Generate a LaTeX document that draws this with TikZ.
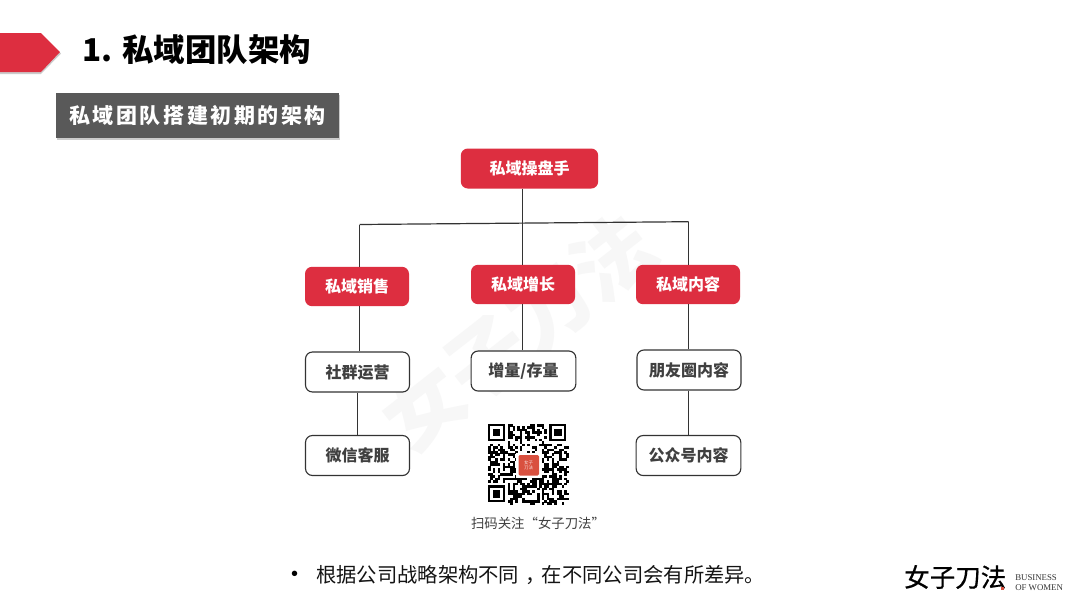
\documentclass[tikz,border=0pt]{standalone}
\usepackage{fontspec}
\setmainfont{Noto Sans CJK SC}
\newfontfamily\serifen{Liberation Serif}
\newfontfamily\latinsans{Liberation Sans}
\newcommand{\px}[1]{\fontsize{\fpeval{#1*0.75}}{\fpeval{#1*0.9}}\selectfont}
\definecolor{brandred}{HTML}{DD2E40}
\definecolor{subgrey}{HTML}{595959}
\definecolor{ink}{HTML}{404040}
\definecolor{edgeink}{HTML}{333333}
\definecolor{wm}{HTML}{F7F7F7}
\definecolor{logored}{HTML}{D9503F}
\tikzset{
  x=0.75pt,y=-0.75pt,
  boxbase/.style={rounded corners=5.2pt,anchor=center,inner sep=0pt,align=center,font=\px{16}\bfseries},
  redbox/.style={boxbase,fill=brandred,text=white},
  whitebox/.style={boxbase,draw=edgeink,line width=0.85pt,fill=white,text=ink},
  link/.style={draw=edgeink,line width=0.9pt},
  softshadow/.style={fill=black!45,opacity=.45}
}
\begin{document}
\begin{tikzpicture}
\useasboundingbox (0,0) rectangle (1080,604);
\fill[white] (0,0) rectangle (1080,604);
% watermark
\node[rotate=38,text=wm,font=\px{80}\bfseries,inner sep=0pt] (watermark) at (518,332) {女子刀法};
% header arrow
\fill[softshadow] (0,35) -- (41,35) -- (61,53.5) -- (41,74) -- (0,74) -- cycle;
\fill[brandred] (0,33) -- (41,33) -- (60,52) -- (41,72) -- (0,72) -- cycle;
\node[anchor=west,inner sep=0pt,font=\px{31.4}\bfseries,text=black] (title) at (82.5,50) {1. 私域团队架构};
% sub heading
\fill[softshadow] (57,95) rectangle (340,139.5);
\node[anchor=center,fill=subgrey,minimum width=212.25pt,minimum height=33.75pt,inner sep=0pt,text=white] (subhead) at (197.5,115.5) {\addfontfeature{LetterSpace=12}\px{21}\bfseries 私域团队搭建初期的架构};
% nodes
\node[redbox,minimum width=103pt,minimum height=30pt] (top) at (529.5,168.5) {私域操盘手};
\node[redbox,minimum width=78pt,minimum height=29.5pt] (s1) at (357,286.5) {私域销售};
\node[redbox,minimum width=78pt,minimum height=29.5pt] (s2) at (523,284.5) {私域增长};
\node[redbox,minimum width=78pt,minimum height=29.5pt] (s3) at (688,284.5) {私域内容};
\node[whitebox,minimum width=78pt,minimum height=30pt] (a1) at (357.5,372) {社群运营};
\node[whitebox,minimum width=78.5pt,minimum height=30pt] (a2) at (523.5,371) {增量/存量};
\node[whitebox,minimum width=78pt,minimum height=30pt] (a3) at (689,370) {朋友圈内容};
\node[whitebox,minimum width=78pt,minimum height=30pt] (b1) at (357.5,455.5) {微信客服};
\node[whitebox,minimum width=78.5pt,minimum height=30pt] (b3) at (688.5,455.5) {公众号内容};
% connectors
\coordinate (jl) at (359.5,224.5);
\coordinate (jr) at (688.5,221.7);
\coordinate (jb) at (522.6,223);
\draw[link] (jl) -- (jr);
\draw[link] (top.south -| jb) -- (s2.north -| jb);
\draw[link] (jl) -- (s1.north -| jl);
\draw[link] (jr) -- (s3.north -| jr);
\draw[link] (s1.south -| jl) -- (a1.north -| jl);
\draw[link] (s2.south -| jb) -- (a2.north -| jb);
\draw[link] (s3.south -| jr) -- (a3.north -| jr);
\draw[link] (a1) -- (b1);
\draw[link] (a3.south -| jr) -- (b3.north -| jr);
% QR code
\begin{scope}[shift={(488,424)}]
\pgfmathsetseed{2024}
\def\m{2.45}
\foreach \i in {0,...,32}{
  \foreach \j in {0,...,32}{
    \pgfmathrandominteger{\r}{0}{99}
    \ifnum\r<52
      \fill[black] ({\i*\m},{\j*\m}) rectangle ++(\m+0.1,\m+0.1);
    \fi
  }
}
\foreach \cx/\cy in {0/0,25/0,0/25}{
  \fill[white] ({(\cx-1)*\m},{(\cy-1)*\m}) rectangle ++({9*\m},{9*\m});
  \fill[black] ({\cx*\m},{\cy*\m}) rectangle ++({7*\m},{7*\m});
  \fill[white] ({(\cx+1)*\m},{(\cy+1)*\m}) rectangle ++({5*\m},{5*\m});
  \fill[black] ({(\cx+2)*\m},{(\cy+2)*\m}) rectangle ++({3*\m},{3*\m});
}
\end{scope}
\fill[white] (516,452.5) rectangle (541.5,478);
\fill[logored,rounded corners=1pt] (518.5,455) rectangle (539,475.5);
\node[text=white!85!logored,font=\px{4.5},align=center,inner sep=0pt] (qrlogo) at (528.7,465) {女子\\刀法};
\node[font=\px{13.4},text=ink,inner sep=0pt] (qrcap) at (538,523) {扫码关注“女子刀法”};
% footer
\node[font=\latinsans\px{20},text=black,inner sep=0pt] (bullet) at (294.5,576) {•};
\node[anchor=west,font=\px{20.3},text=black!92,inner sep=0pt] (note) at (316,575) {根据公司战略架构不同\kern4.5pt，\kern-2.7pt 在不同公司会有所差异。};
\node[anchor=west,font=\px{25.5},text=black,inner sep=0pt] (brand) at (904,577) {\addfontfeature{FakeBold=0.6}女子刀法};
\fill[logored] (1000.5,587) rectangle (1003.5,590);
\node[anchor=west,font=\serifen\px{8.8},text=black!80,inner sep=0pt,align=left] (busi) at (1015,582.5) {BUSINESS\\OF WOMEN};
\end{tikzpicture}
\end{document}
